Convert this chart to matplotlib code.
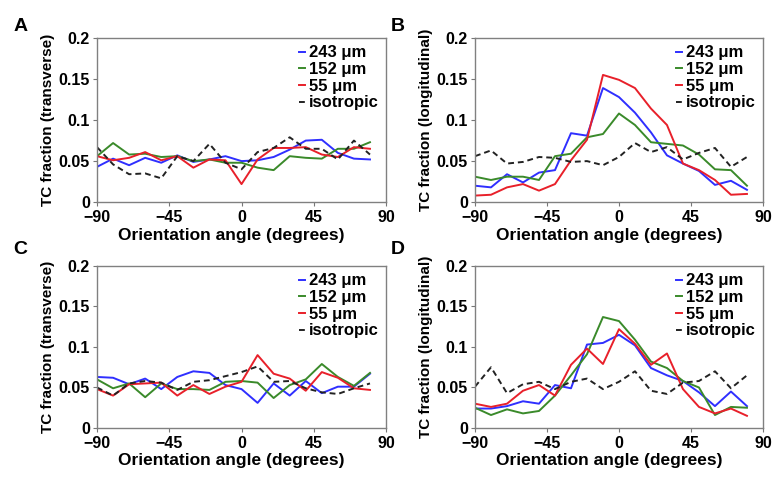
import numpy as np
import matplotlib.pyplot as plt

plt.rcParams['font.family'] = ['Liberation Sans', 'DejaVu Sans']
plt.rcParams['font.weight'] = 'bold'

angles = np.arange(-90, 81, 10)
labels = ['243 \u03bcm', '152 \u03bcm', '55 \u03bcm', 'isotropic']

# panel A (transverse)
a_243 = [0.043, 0.053, 0.045, 0.054, 0.048, 0.057, 0.049, 0.052, 0.056, 0.050, 0.051, 0.055, 0.064, 0.075, 0.076, 0.060, 0.053, 0.052]
a_152 = [0.056, 0.072, 0.058, 0.059, 0.055, 0.056, 0.050, 0.052, 0.048, 0.048, 0.042, 0.039, 0.056, 0.054, 0.053, 0.065, 0.065, 0.073]
a_55 = [0.056, 0.051, 0.054, 0.061, 0.051, 0.056, 0.042, 0.052, 0.051, 0.022, 0.052, 0.066, 0.066, 0.067, 0.058, 0.055, 0.067, 0.065]
a_iso = [0.067, 0.046, 0.034, 0.035, 0.029, 0.056, 0.050, 0.071, 0.048, 0.040, 0.061, 0.066, 0.079, 0.065, 0.065, 0.052, 0.075, 0.058]

# panel B (longitudinal)
b_243 = [0.020, 0.018, 0.034, 0.024, 0.036, 0.039, 0.084, 0.081, 0.139, 0.128, 0.109, 0.085, 0.057, 0.047, 0.038, 0.021, 0.026, 0.015]
b_152 = [0.031, 0.027, 0.031, 0.031, 0.027, 0.056, 0.059, 0.079, 0.083, 0.108, 0.094, 0.073, 0.071, 0.069, 0.058, 0.040, 0.039, 0.020]
b_55 = [0.008, 0.009, 0.018, 0.022, 0.014, 0.022, 0.051, 0.076, 0.155, 0.149, 0.139, 0.114, 0.094, 0.047, 0.039, 0.027, 0.009, 0.010]
b_iso = [0.056, 0.063, 0.047, 0.049, 0.055, 0.054, 0.049, 0.050, 0.045, 0.055, 0.072, 0.061, 0.067, 0.052, 0.060, 0.066, 0.043, 0.055]

# panel C (transverse)
c_243 = [0.063, 0.062, 0.054, 0.061, 0.048, 0.063, 0.070, 0.068, 0.053, 0.048, 0.031, 0.055, 0.040, 0.058, 0.043, 0.051, 0.051, 0.067]
c_152 = [0.060, 0.049, 0.055, 0.038, 0.055, 0.048, 0.048, 0.047, 0.057, 0.058, 0.056, 0.037, 0.053, 0.060, 0.079, 0.063, 0.052, 0.068]
c_55 = [0.048, 0.040, 0.054, 0.055, 0.056, 0.040, 0.053, 0.042, 0.051, 0.057, 0.090, 0.067, 0.061, 0.046, 0.069, 0.062, 0.049, 0.047]
c_iso = [0.050, 0.040, 0.055, 0.058, 0.056, 0.047, 0.057, 0.059, 0.064, 0.069, 0.076, 0.057, 0.058, 0.049, 0.044, 0.042, 0.049, 0.055]

# panel D (longitudinal)
d_243 = [0.024, 0.024, 0.027, 0.033, 0.030, 0.053, 0.049, 0.103, 0.105, 0.115, 0.102, 0.074, 0.065, 0.058, 0.044, 0.027, 0.045, 0.027]
d_152 = [0.025, 0.016, 0.023, 0.018, 0.021, 0.040, 0.065, 0.091, 0.137, 0.132, 0.109, 0.082, 0.074, 0.058, 0.050, 0.016, 0.026, 0.025]
d_55 = [0.030, 0.026, 0.030, 0.046, 0.053, 0.040, 0.078, 0.098, 0.079, 0.122, 0.104, 0.078, 0.092, 0.048, 0.026, 0.018, 0.024, 0.015]
d_iso = [0.051, 0.075, 0.043, 0.054, 0.057, 0.048, 0.057, 0.061, 0.048, 0.057, 0.070, 0.046, 0.042, 0.056, 0.058, 0.070, 0.049, 0.065]

colors = ['#2f2fff', '#3a8a2a', '#e8202a', '#222222']
styles = ['-', '-', '-', '--']

panels = [
    ('A', [0.1255, 0.578, 0.3739, 0.3427], 'TC fraction (transverse)', [a_243, a_152, a_55, a_iso], (0.017, 0.945)),
    ('B', [0.6145, 0.578, 0.3725, 0.3427], 'TC fraction (longitudinal)', [b_243, b_152, b_55, b_iso], (0.505, 0.945)),
    ('C', [0.1255, 0.1065, 0.3739, 0.3382], 'TC fraction (transverse)', [c_243, c_152, c_55, c_iso], (0.017, 0.48)),
    ('D', [0.6145, 0.1065, 0.3725, 0.3382], 'TC fraction (longitudinal)', [d_243, d_152, d_55, d_iso], (0.505, 0.48)),
]

fig = plt.figure(figsize=(7.73, 4.79), dpi=100)
for letter, pos, ylab, series, lpos in panels:
    ax = fig.add_axes(pos)
    for vals, c, ls, lab in zip(series, colors, styles, labels):
        ax.plot(angles, vals, color=c, linestyle=ls, linewidth=1.4, label=lab,
                dashes=(3, 2) if ls == '--' else (None, None))
    ax.set_xlim(-90, 90)
    ax.set_ylim(0, 0.2)
    ax.set_xticks([-90, -45, 0, 45, 90])
    ax.set_yticks([0, 0.05, 0.1, 0.15, 0.2])
    ax.set_yticklabels(['0', '0.05', '0.1', '0.15', '0.2'])
    ax.tick_params(labelsize=11.5, length=3, color='#777777', pad=2)
    ax.tick_params(axis='x', pad=3)
    for s in ax.spines.values():
        s.set_color('#808080')
        s.set_linewidth(1.0)
    ax.set_xlabel('Orientation angle (degrees)', fontsize=12.5, fontweight='bold')
    ax.xaxis.set_label_coords(0.465, -0.155)
    ax.set_ylabel(ylab, fontsize=11, fontweight='bold', labelpad=3)
    ax.legend(loc='upper right', frameon=False, handlelength=0.35,
              handletextpad=0.2, labelspacing=0.1, borderaxespad=0.05,
              prop={'weight': 'bold', 'size': 12})
    fig.text(lpos[0], lpos[1], letter, fontsize=14, fontweight='bold', va='center')

fig.savefig('out.png', dpi=100)
